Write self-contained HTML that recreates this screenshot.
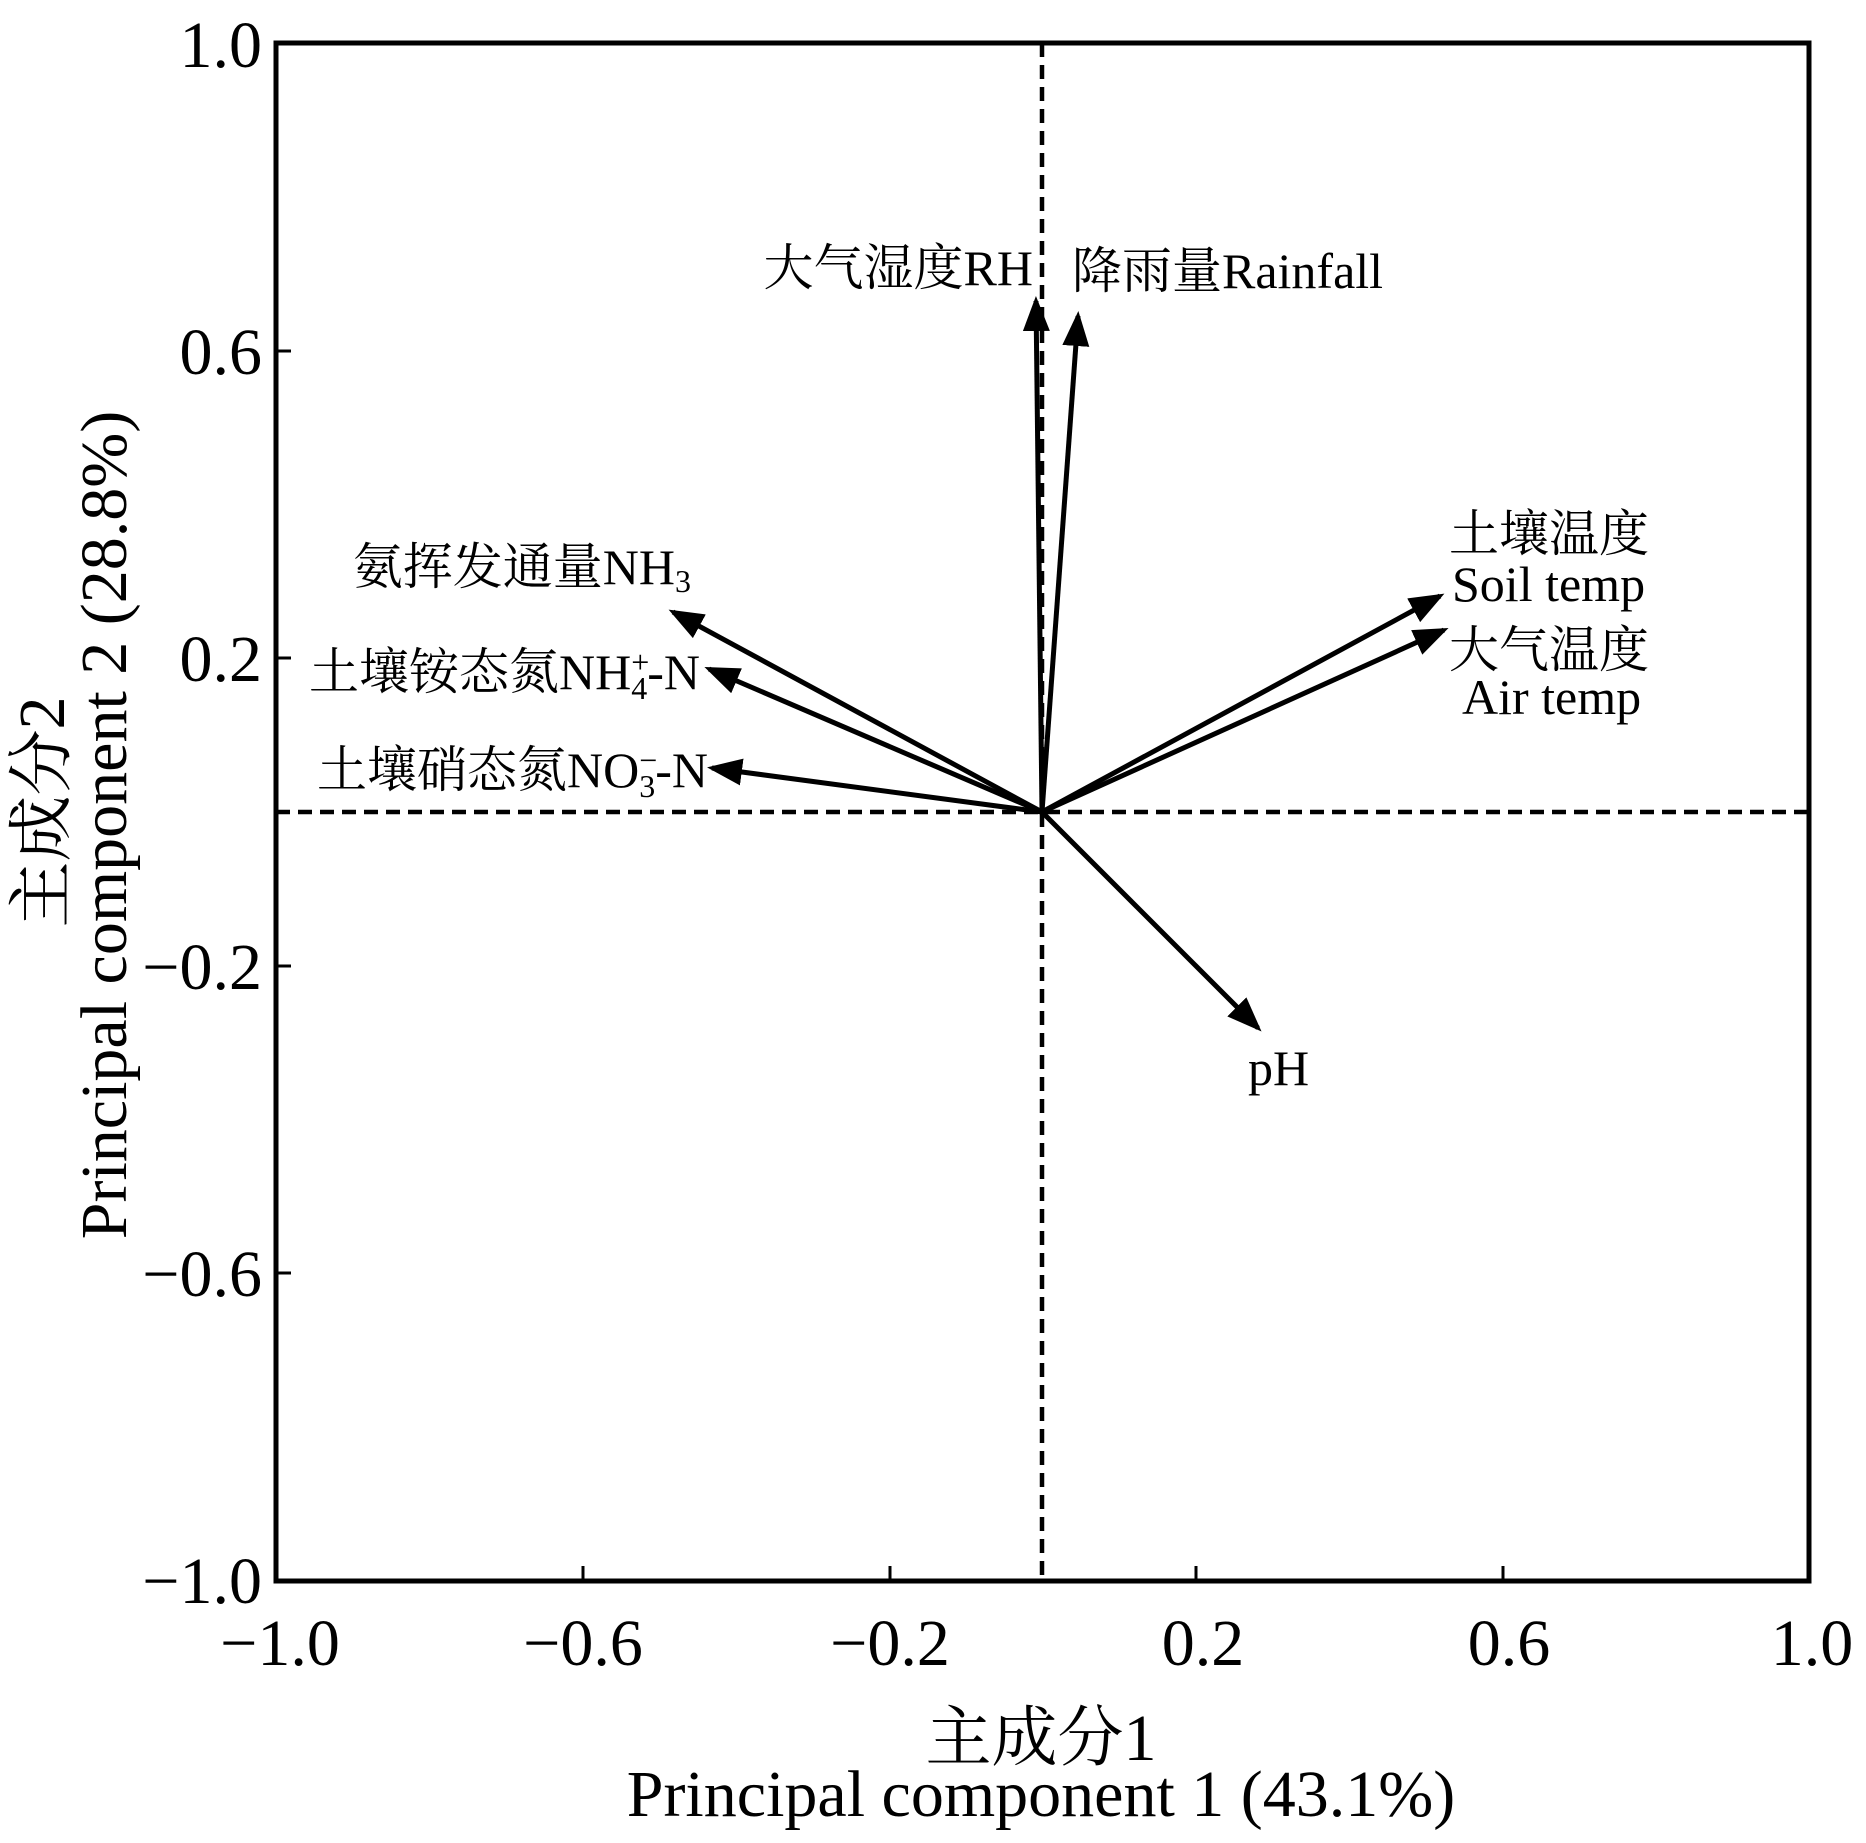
<!DOCTYPE html>
<html><head><meta charset="utf-8"><style>
html,body{margin:0;padding:0;background:#fff}
svg{display:block}
text{font-family:"Liberation Serif","Noto Serif CJK SC","Noto Sans CJK SC",serif;fill:#000}
</style></head><body>
<svg width="1866" height="1843" viewBox="0 0 1866 1843" xmlns="http://www.w3.org/2000/svg">
<defs>
<marker id="ah" markerWidth="7" markerHeight="5.4" refX="6" refY="2.7" orient="auto" markerUnits="strokeWidth">
<path d="M0,0 L7,2.7 L0,5.4 z" fill="#000"/>
</marker>
</defs>
<rect x="276" y="43" width="1533" height="1538" fill="none" stroke="#000" stroke-width="5"/>
<line x1="1042" y1="43" x2="1042" y2="1581" stroke="#000" stroke-width="4.5" stroke-dasharray="14,8"/>
<line x1="276" y1="812" x2="1809" y2="812" stroke="#000" stroke-width="4.5" stroke-dasharray="14,8"/>
<g stroke="#000" stroke-width="3">
<line x1="583" y1="1581" x2="583" y2="1566"/>
<line x1="890" y1="1581" x2="890" y2="1566"/>
<line x1="1196" y1="1581" x2="1196" y2="1566"/>
<line x1="1503" y1="1581" x2="1503" y2="1566"/>
<line x1="276" y1="351" x2="291" y2="351"/>
<line x1="276" y1="658" x2="291" y2="658"/>
<line x1="276" y1="966" x2="291" y2="966"/>
<line x1="276" y1="1273" x2="291" y2="1273"/>
</g>
<g font-size="66" text-anchor="middle">
<text x="280" y="1665">−1.0</text>
<text x="583" y="1665">−0.6</text>
<text x="890" y="1665">−0.2</text>
<text x="1203" y="1665">0.2</text>
<text x="1509" y="1665">0.6</text>
<text x="1812" y="1665">1.0</text>
</g>
<g font-size="66" text-anchor="end">
<text x="262" y="67">1.0</text>
<text x="262" y="374">0.6</text>
<text x="262" y="681">0.2</text>
<text x="262" y="989">−0.2</text>
<text x="262" y="1296">−0.6</text>
<text x="262" y="1603">−1.0</text>
</g>
<g stroke="#000" stroke-width="5" marker-end="url(#ah)">
<line x1="1042" y1="812" x2="1036" y2="301"/>
<line x1="1042" y1="812" x2="1078" y2="316"/>
<line x1="1042" y1="812" x2="673" y2="612"/>
<line x1="1042" y1="812" x2="709" y2="669"/>
<line x1="1042" y1="812" x2="712" y2="768"/>
<line x1="1042" y1="812" x2="1440" y2="596"/>
<line x1="1042" y1="812" x2="1444" y2="630"/>
<line x1="1042" y1="812" x2="1258" y2="1028"/>
</g>
<g font-size="50">
<text x="1033" y="285" text-anchor="end">大气湿度RH</text>
<text x="1072" y="288">降雨量Rainfall</text>
<text x="691" y="584" text-anchor="end">氨挥发通量NH<tspan font-size="32" dy="8">3</tspan></text>
<text x="700" y="689" text-anchor="end">土壤铵态氮NH<tspan font-size="32" dy="-16">+</tspan><tspan font-size="32" dx="-18" dy="26">4</tspan><tspan dy="-10">-N</tspan></text>
<text x="708" y="787" text-anchor="end">土壤硝态氮NO<tspan font-size="32" dy="-16">−</tspan><tspan font-size="32" dx="-18" dy="26">3</tspan><tspan dy="-10">-N</tspan></text>
<text x="1449" y="551">土壤温度</text>
<text x="1452" y="601">Soil temp</text>
<text x="1449" y="667">大气温度</text>
<text x="1462" y="714">Air temp</text>
<text x="1248" y="1085">pH</text>
</g>
<text x="1041" y="1760" font-size="66" text-anchor="middle">主成分1</text>
<text x="1041" y="1816" font-size="66" text-anchor="middle">Principal component 1 (43.1%)</text>
<text transform="translate(64,812) rotate(-90)" font-size="66" text-anchor="middle">主成分2</text>
<text transform="translate(126,825) rotate(-90)" font-size="66" text-anchor="middle">Principal component 2 (28.8%)</text>
</svg>
</body></html>
